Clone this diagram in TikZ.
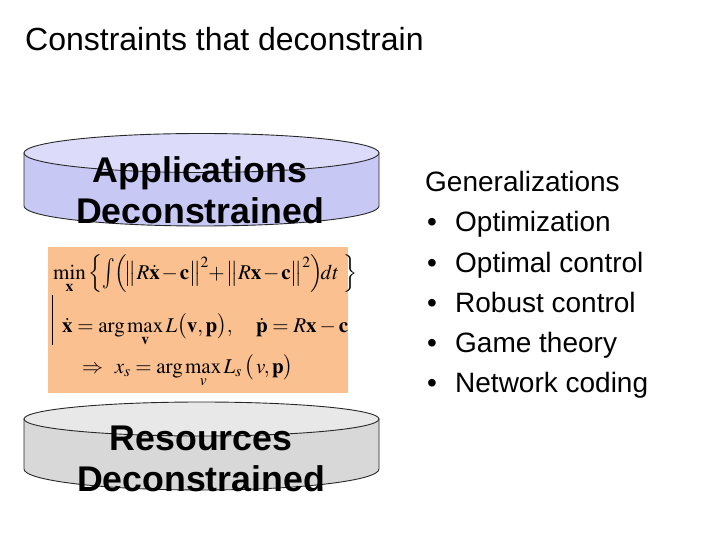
\documentclass[tikz,border=0pt]{standalone}
\usepackage{mathptmx}
\usepackage[no-math]{fontspec}
\setmainfont{Liberation Sans}
\definecolor{lavside}{RGB}{200,200,245}
\definecolor{lavtop}{RGB}{220,220,250}
\definecolor{grayside}{RGB}{216,216,216}
\definecolor{graytop}{RGB}{232,232,232}
\definecolor{peach}{RGB}{250,192,143}
\definecolor{edgecol}{RGB}{40,40,40}
\newcommand{\tallint}{\mathop{\vcenter{\hbox{\scalebox{1}[1.45]{$\int$}}}}\nolimits}
\tikzset{
  edge/.style={draw=edgecol, line width=0.9pt},
  titletext/.style={inner sep=0pt, font=\fontsize{32}{38}\selectfont},
  listtext/.style={inner sep=0pt, anchor=base west, font=\fontsize{28}{34}\selectfont},
  cyltext/.style={inner sep=0pt, anchor=base, font=\fontsize{35.7}{41}\selectfont\bfseries},
  mathtext/.style={inner sep=0pt, anchor=base west, font=\fontsize{21}{26}\selectfont},
}
\begin{document}
\begin{tikzpicture}[x=1pt,y=-1pt]
\useasboundingbox (0,0) rectangle (720,540);
\fill[white] (0,0) rectangle (720,540);

% title
\node[titletext, anchor=base west] (title) at (25,51) {Constraints that deconstrain};

% top cylinder
\path[edge, fill=lavside] (24,153) -- (24,206) arc[start angle=180, end angle=0, x radius=177.5, y radius=20] -- (379,153) -- cycle;
\path[edge, fill=lavtop] (201.5,153) ellipse [x radius=177.5, y radius=19.5];
\node[cyltext] (app1) at (200,183) {Applications};
\node[cyltext] (app2) at (200,224) {Deconstrained};

% equation box
\fill[peach] (48,247) rectangle (348,393);
\node[mathtext] (eq1) at (53,279) {\medmuskip=1.5mu $\min\limits_{\mathbf{x}} \Big\{\! \tallint \!\Big(\! \big\| R\dot{\mathbf{x}}-\mathbf{c} \big\|^2 \!+ \big\| R\mathbf{x}-\mathbf{c} \big\|^2 \Big)\! dt \; \Big\}$};
\draw[line width=1pt] (52,295) -- (52,345);
\node[mathtext] (eq2) at (62,332) {\medmuskip=2.5mu $\dot{\mathbf{x}} = \arg\max\limits_{\mathbf{v}} L\big(\mathbf{v},\mathbf{p}\big),\quad \dot{\mathbf{p}} = R\mathbf{x}-\mathbf{c}$};
\node[mathtext] (eq3) at (82,373) {$\Rightarrow\;\, x_s = \arg\max\limits_{v} L_s\,\big(\,v,\mathbf{p}\big)$};

% bottom cylinder
\path[edge, fill=grayside] (24,419) -- (24,469) arc[start angle=180, end angle=0, x radius=177.5, y radius=21] -- (379,419) -- cycle;
\path[edge, fill=graytop] (201.5,419) ellipse [x radius=177.5, y radius=17];
\node[cyltext] (res1) at (201,450) {Resources};
\node[cyltext] (res2) at (201,491) {Deconstrained};

% list
\node[listtext] (gen) at (425,192) {Generalizations};
\foreach \y/\t/\n in {232/Optimization/l1, 272/Optimal control/l2, 312/Robust control/l3, 352/Game theory/l4, 392/Network coding/l5} {
  \node[listtext] (b\n) at (427,\y) {•};
  \node[listtext] (\n) at (455,\y) {\t};
}
\end{tikzpicture}
\end{document}
